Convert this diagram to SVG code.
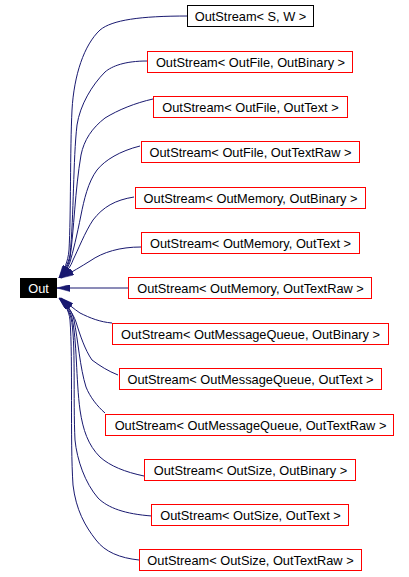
<svg xmlns="http://www.w3.org/2000/svg" width="409" height="577" viewBox="0 0 409 577">
<style>
.bg{fill:#ffffff}
.n rect{fill:#ffffff;stroke:#ff0000;stroke-width:1}
.n text{font-family:"Liberation Sans",Arial,sans-serif;font-size:12.8px;fill:#000000;text-anchor:middle}
.e path{fill:none;stroke:#191970;stroke-width:1;marker-end:url(#ah)}
</style>
<defs>
<marker id="ah" viewBox="0 0 13 7" refX="13" refY="3.5" markerWidth="13" markerHeight="7" markerUnits="userSpaceOnUse" orient="auto">
<path d="M0,0 L13,3.5 L0,7 Z" fill="#191970" stroke="#191970" stroke-width="0.5"/>
</marker>
</defs>
<rect class="bg" x="0" y="0" width="409" height="577"/>
<g id="edges" class="e">
<path d="M188,16 C140,16 112,20 100,30 C84,45 74,75 72,110 C70,150 71,215 69,250 C68,262 64,270 59,278"/>
<path d="M147,61 C125,61 112,66 105,72 C92,85 80,105 77,125 C73,160 74,215 70,255 C68,265 64,271 59,278"/>
<path d="M153,99 C135,103 118,110 105,118 C92,128 84,140 81,155 C75,190 74,230 70,258 C68,267 64,273 60,278"/>
<path d="M140,146 C120,151 105,160 97,170 C88,182 84,200 81,215 C77,235 73,252 70,262 C68,268 64,274 60,278"/>
<path d="M134,197 C115,200 103,207 93,220 C85,232 78,250 73,260 C71,266 66,273 60,278"/>
<path d="M141,247 C120,247 103,252 90,261 C82,266 72,272 61,278"/>
<path d="M128,288 L57,288"/>
<path d="M112,323 C100,322 90,318 80,313 C74,309 67,303 61,298"/>
<path d="M118,375 C108,371 100,366 92,360 C85,350 80,335 76,322 C73,313 66,304 60,298"/>
<path d="M105,413 C97,406 90,397 86,387 C80,368 78,340 74,320 C72,311 66,303 60,298"/>
<path d="M144,476 C125,472 110,466 100,457 C88,445 83,430 80,410 C76,380 77,340 72,318 C70,310 65,303 59,298"/>
<path d="M152,516 C125,514 108,508 98,498 C85,483 77,460 75,440 C73,400 76,340 71,318 C69,310 64,303 59,298"/>
<path d="M139,560 C120,558 105,552 96,540 C85,526 76,510 73,485 C70,440 73,360 70,320 C69,310 64,303 59,298"/>
</g>
<g id="node-out">
<rect x="20" y="278" width="37" height="20" fill="#000000"/>
<text x="38.5" y="292.5" font-family="Liberation Sans, Arial, sans-serif" font-size="12.8" fill="#ffffff" text-anchor="middle">Out</text>
</g>
<g id="node-1" class="n"><rect x="187.5" y="5.5" width="126" height="21" style="stroke:#000000"/><text x="250.5" y="20.5">OutStream&lt; S, W &gt;</text></g>
<g id="node-2" class="n"><rect x="147.5" y="51.5" width="205" height="21"/><text x="250.5" y="66.5">OutStream&lt; OutFile, OutBinary &gt;</text></g>
<g id="node-3" class="n"><rect x="153.5" y="96.5" width="194" height="21"/><text x="250.5" y="111.5">OutStream&lt; OutFile, OutText &gt;</text></g>
<g id="node-4" class="n"><rect x="141.5" y="141.5" width="218" height="21"/><text x="250.5" y="156.5">OutStream&lt; OutFile, OutTextRaw &gt;</text></g>
<g id="node-5" class="n"><rect x="135.5" y="187.5" width="230" height="21"/><text x="250.5" y="202.5">OutStream&lt; OutMemory, OutBinary &gt;</text></g>
<g id="node-6" class="n"><rect x="141.5" y="232.5" width="218" height="21"/><text x="250.5" y="247.5">OutStream&lt; OutMemory, OutText &gt;</text></g>
<g id="node-7" class="n"><rect x="128.5" y="277.5" width="243" height="21"/><text x="250.5" y="292.5">OutStream&lt; OutMemory, OutTextRaw &gt;</text></g>
<g id="node-8" class="n"><rect x="112.5" y="323.5" width="276" height="21"/><text x="250.5" y="338.5">OutStream&lt; OutMessageQueue, OutBinary &gt;</text></g>
<g id="node-9" class="n"><rect x="119.5" y="368.5" width="262" height="21"/><text x="250.5" y="383.5">OutStream&lt; OutMessageQueue, OutText &gt;</text></g>
<g id="node-10" class="n"><rect x="105.5" y="414.5" width="288" height="21"/><text x="250.5" y="429.5">OutStream&lt; OutMessageQueue, OutTextRaw &gt;</text></g>
<g id="node-11" class="n"><rect x="144.5" y="459.5" width="211" height="21"/><text x="250.5" y="474.5">OutStream&lt; OutSize, OutBinary &gt;</text></g>
<g id="node-12" class="n"><rect x="151.5" y="504.5" width="197" height="21"/><text x="250.5" y="519.5">OutStream&lt; OutSize, OutText &gt;</text></g>
<g id="node-13" class="n"><rect x="139.5" y="549.5" width="222" height="21"/><text x="250.5" y="564.5">OutStream&lt; OutSize, OutTextRaw &gt;</text></g>
</svg>
